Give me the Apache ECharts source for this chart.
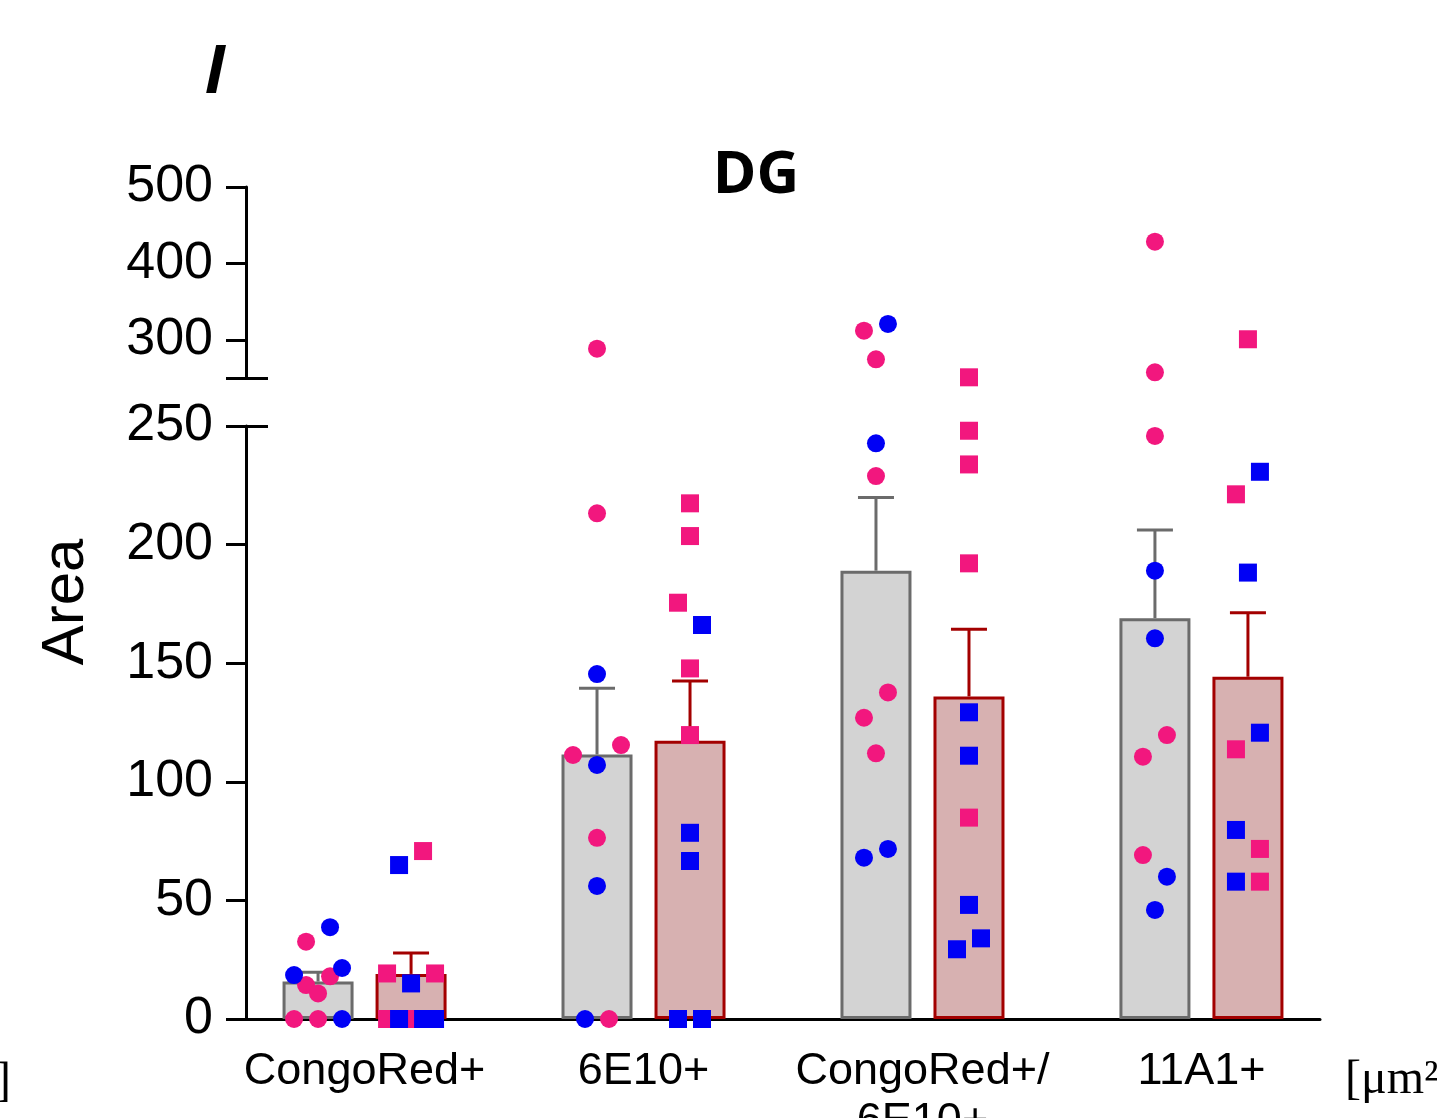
<!DOCTYPE html>
<html><head><meta charset="utf-8">
<script src="https://cdn.jsdelivr.net/npm/echarts@6.0.0/dist/echarts.min.js"></script>
<style>html,body{margin:0;padding:0;background:#fff}#c{width:1437px;height:1118px}</style>
</head><body><div id="c"></div>
<script>
// ---------- data ----------
const categories = ['CongoRed+', '6E10+', 'CongoRed+/\n6E10+', '11A1+'];
const grayMean = [15.8, 111.5, 189.0, 169.0];
const grayErr  = [3.9, 27.9, 30.9, 37.2];
const redMean  = [19.0, 117.3, 136.0, 144.3];
const redErr   = [8.8, 25.2, 28.3, 27.0];
// points: [category index, value, jitter slot]
const grayPink = [
  [0,32.6,-1],[0,18.0,1],[0,14.3,-1],[0,10.8,0],[0,0,-2],[0,0,0],
  [1,288.4,0],[1,213.2,0],[1,111.3,-2],[1,115.5,2],[1,76.4,0],[1,0,1],
  [2,311.9,-1],[2,274.5,0],[2,228.9,0],[2,137.7,1],[2,127.0,-1],[2,112.0,0],
  [3,428.4,0],[3,257.4,0],[3,245.8,0],[3,119.7,1],[3,110.6,-1],[3,69.1,-1]
];
const grayBlue = [
  [0,38.7,1],[0,18.5,-2],[0,21.5,2],[0,0,2],
  [1,145.4,0],[1,107.1,0],[1,56.1,0],[1,0,-1],
  [2,320.7,1],[2,242.7,0],[2,68.0,-1],[2,71.7,1],
  [3,189.0,0],[3,160.5,0],[3,60.0,1],[3,46.0,0]
];
const redPink = [
  [0,19.2,-2],[0,19.2,2],[0,70.8,1],[0,0,-2],[0,0,0],
  [1,217.4,0],[1,203.6,0],[1,175.5,-1],[1,147.8,0],[1,119.7,0],
  [2,250.9,0],[2,248.0,0],[2,233.8,0],[2,192.1,0],[2,84.9,0],
  [3,300.7,0],[3,221.2,-1],[3,113.7,-1],[3,71.7,1],[3,57.9,1]
];
const redBlue = [
  [0,15.0,0],[0,64.9,-1],[0,0,-1],[0,0,1],[0,0,2],
  [1,166.1,1],[1,78.5,0],[1,66.6,0],[1,0,-1],[1,0,1],
  [2,129.3,0],[2,111.0,0],[2,48.1,0],[2,34.0,1],[2,29.4,-1],
  [3,230.7,1],[3,188.2,0],[3,120.7,1],[3,79.7,-1],[3,57.9,-1]
];
const lowerTicks = [0, 50, 100, 150, 200, 250];
const upperTicks = [300, 400, 500];
const breakValue = 250;

// ---------- layout / style ----------
const X_MIN = -0.425, X_MAX = 3.425;
const BAR_SHIFT = 0.1667;   // half distance between the two bars of a group (category units)
const SLOT = 0.043;         // jitter step (category units)
const PINK = '#f2177e', BLUE = '#0000f5';
const GRAY_FILL = '#d3d3d3', GRAY_LINE = '#6b6b6b';
const RED_FILL = '#d7b1b1', RED_LINE = '#a30000';
const FONT = '"Liberation Sans", Arial, sans-serif';

function errItem(color) {
  return function (params, api) {
    const x = api.value(0), m = api.value(1), e = api.value(2);
    const b = api.coord([x, m]), t = api.coord([x, m + e]);
    const hw = 18;
    return { type: 'group', children: [
      { type: 'line', shape: { x1: b[0], y1: b[1], x2: t[0], y2: t[1] }, style: { stroke: color, lineWidth: 3 } },
      { type: 'line', shape: { x1: t[0] - hw, y1: t[1], x2: t[0] + hw, y2: t[1] }, style: { stroke: color, lineWidth: 3 } }
    ]};
  };
}

function pointSeries(pts, shift, color, symbol, upper) {
  const data = pts.filter(p => upper ? p[1] > breakValue : p[1] <= breakValue)
                  .map(p => [p[0] + shift + p[2] * SLOT, p[1]]);
  return {
    type: 'scatter', xAxisIndex: upper ? 0 : 1, yAxisIndex: upper ? 0 : 2,
    data, symbol, symbolSize: 18, clip: false, z: 5,
    itemStyle: { color, opacity: 1 }, silent: true
  };
}

const xBase = {
  type: 'value', min: X_MIN, max: X_MAX, splitLine: { show: false }
};
const tickStyle = { color: '#000', width: 3 };
const yLabel = { color: '#000', fontFamily: FONT, fontSize: 52, margin: 33 };

const option = {
  animation: false,
  backgroundColor: '#ffffff',
  grid: [
    { left: 246, top: 187, width: 1074, height: 191, containLabel: false, outerBoundsMode: 'none' },
    { left: 246, top: 426, width: 1074, height: 593, containLabel: false, outerBoundsMode: 'none' }
  ],
  xAxis: [
    Object.assign({}, xBase, { gridIndex: 0, show: false, axisLine: { onZero: false } }),
    Object.assign({}, xBase, {
      gridIndex: 1,
      axisLine: { show: true, onZero: false, lineStyle: tickStyle },
      axisTick: { show: false },
      axisLabel: {
        customValues: [0, 1, 2, 3],
        formatter: v => categories[Math.round(v)],
        color: '#000', fontFamily: FONT, fontSize: 45, lineHeight: 50, margin: 28
      }
    })
  ],
  yAxis: [
    { gridIndex: 0, type: 'value', position: 'left', min: 250, max: 500,
      splitLine: { show: false },
      axisLine: { show: true, onZero: false, lineStyle: tickStyle },
      axisTick: { show: true, length: 20, customValues: [breakValue].concat(upperTicks), lineStyle: tickStyle },
      axisLabel: Object.assign({ customValues: upperTicks }, yLabel) },
    { gridIndex: 0, type: 'value', position: 'left', min: 250, max: 500,
      splitLine: { show: false }, axisLine: { show: false, onZero: false },
      axisTick: { show: true, inside: true, length: 22, customValues: [breakValue], lineStyle: tickStyle },
      axisLabel: { show: false } },
    { gridIndex: 1, type: 'value', position: 'left', min: 0, max: 250, interval: 50,
      splitLine: { show: false },
      axisLine: { show: true, onZero: false, lineStyle: tickStyle },
      axisTick: { show: true, length: 20, customValues: lowerTicks, lineStyle: tickStyle },
      axisLabel: Object.assign({ customValues: lowerTicks }, yLabel) },
    { gridIndex: 1, type: 'value', position: 'left', min: 0, max: 250,
      splitLine: { show: false }, axisLine: { show: false, onZero: false },
      axisTick: { show: true, inside: true, length: 22, customValues: [breakValue], lineStyle: tickStyle },
      axisLabel: { show: false } }
  ],
  series: [
    { type: 'bar', xAxisIndex: 1, yAxisIndex: 2, data: grayMean.map((v, i) => [i, v]),
      barWidth: 71, barGap: '31%', z: 2, silent: true,
      itemStyle: { color: GRAY_FILL, borderColor: GRAY_LINE, borderWidth: 3 } },
    { type: 'bar', xAxisIndex: 1, yAxisIndex: 2, data: redMean.map((v, i) => [i, v]),
      barWidth: 71, barGap: '31%', z: 2, silent: true,
      itemStyle: { color: RED_FILL, borderColor: RED_LINE, borderWidth: 3 } },
    { type: 'custom', xAxisIndex: 1, yAxisIndex: 2, z: 3, silent: true,
      data: grayMean.map((v, i) => [i - BAR_SHIFT, v, grayErr[i]]),
      encode: { x: 0, y: 1 }, renderItem: errItem(GRAY_LINE) },
    { type: 'custom', xAxisIndex: 1, yAxisIndex: 2, z: 3, silent: true,
      data: redMean.map((v, i) => [i + BAR_SHIFT, v, redErr[i]]),
      encode: { x: 0, y: 1 }, renderItem: errItem(RED_LINE) },
    pointSeries(grayPink, -BAR_SHIFT, PINK, 'circle', false),
    pointSeries(grayBlue, -BAR_SHIFT, BLUE, 'circle', false),
    pointSeries(redPink, BAR_SHIFT, PINK, 'rect', false),
    pointSeries(redBlue, BAR_SHIFT, BLUE, 'rect', false),
    pointSeries(grayPink, -BAR_SHIFT, PINK, 'circle', true),
    pointSeries(grayBlue, -BAR_SHIFT, BLUE, 'circle', true),
    pointSeries(redPink, BAR_SHIFT, PINK, 'rect', true),
    pointSeries(redBlue, BAR_SHIFT, BLUE, 'rect', true)
  ],
  graphic: [
    { type: 'text', x: 215, y: 74, style: { text: 'I', font: 'italic bold 66px "Open Sans", sans-serif', fill: '#000', textAlign: 'center', textVerticalAlign: 'middle' } },
    { type: 'text', x: 756, y: 176, style: { text: 'DG', font: 'bold 59px "Open Sans", sans-serif', fill: '#000', textAlign: 'center', textVerticalAlign: 'middle' } },
    { type: 'text', x: 66, y: 602, rotation: Math.PI / 2, style: { text: 'Area', font: '60px ' + FONT, fill: '#000', textAlign: 'center', textVerticalAlign: 'middle' } },
    { type: 'text', x: 1345, y: 1080, style: { text: '[\u03bcm\u00b2]', font: '48px "Liberation Serif", serif', fill: '#000', textAlign: 'left', textVerticalAlign: 'middle' } },
    { type: 'text', x: 11, y: 1082, style: { text: ']', font: '48px "Liberation Serif", serif', fill: '#000', textAlign: 'right', textVerticalAlign: 'middle' } }
  ]
};

const chart = echarts.init(document.getElementById('c'), null, { renderer: 'canvas' });
chart.setOption(option);
</script>
</body></html>
